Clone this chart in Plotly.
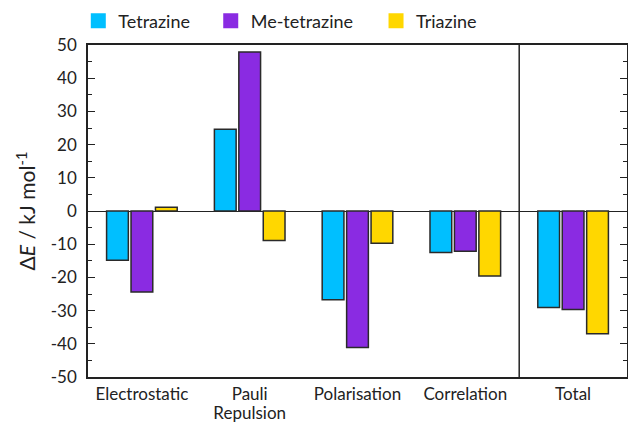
import plotly.graph_objects as go

categories = ["Electrostatic", "Pauli<br>Repulsion", "Polarisation", "Correlation", "Total"]
series_names = ["Tetrazine", "Me-tetrazine", "Triazine"]
legend_pad = ["\u2003\u2009", "\u2003\u2009\u2009", ""]
tetrazine = [-14.8, 24.6, -26.7, -12.5, -29.1]
me_tetrazine = [-24.4, 47.9, -41.1, -12.1, -29.7]
triazine = [1.1, -8.9, -9.7, -19.6, -37.0]
colors = ["#00BFFF", "#8A2BE2", "#FFD700"]
y_ticks = [-50, -40, -30, -20, -10, 0, 10, 20, 30, 40, 50]

font_family = "Lato, 'Open Sans', sans-serif"

fig = go.Figure()
for name, vals, col in zip(series_names, [tetrazine, me_tetrazine, triazine], colors):
    fig.add_trace(go.Bar(
        x=list(range(len(categories))), y=vals, name=name, showlegend=False,
        marker=dict(color=col, line=dict(color="#2a2a2a", width=1.5)),
    ))
# legend entries (square swatches)
for name, pad, col in zip(series_names, legend_pad, colors):
    fig.add_trace(go.Scatter(
        x=[None], y=[None], mode="markers", name=name + pad, showlegend=True,
        marker=dict(symbol="square", size=15, color=col, line=dict(width=0)),
    ))

# tick text drawn at 17px while the base size (15px) sets a tighter line spacing
x_ticktext = ["<span style='font-size:17px'>" + c.replace("<br>", "</span><br><span style='font-size:17px'>") + "</span>"
              for c in categories]

fig.update_layout(
    width=628, height=422,
    margin=dict(l=88, r=1, t=45, b=45, autoexpand=False),
    paper_bgcolor="white", plot_bgcolor="white",
    barmode="group", bargap=0.32, bargroupgap=0.11,
    font=dict(family=font_family, color="#222", size=17),
    showlegend=True,
    legend=dict(orientation="h", x=-0.018, xanchor="left", y=1.0723, yanchor="middle",
                font=dict(size=18, color="#222"), itemwidth=30, tracegroupgap=0,
                bgcolor="rgba(0,0,0,0)"),
)
fig.update_xaxes(
    range=[-0.5, 4.5], tickmode="array", tickvals=list(range(len(categories))),
    ticktext=x_ticktext, showline=True, linecolor="#222", linewidth=1.5, mirror=True,
    ticks="", showgrid=False, zeroline=False, tickfont=dict(size=15),
    automargin=False, ticklabelstandoff=3,
)
fig.update_yaxes(
    range=[-50, 50], tickmode="array", tickvals=y_ticks, ticktext=[str(v) for v in y_ticks],
    showline=True, linecolor="#222", linewidth=1.5, mirror="allticks",
    ticks="inside", ticklen=7, tickwidth=1.3, tickcolor="#222",
    minor=dict(ticks="inside", ticklen=4, dtick=5, tickwidth=1.2, tickcolor="#222", showgrid=False),
    showgrid=False, zeroline=True, zerolinecolor="#222", zerolinewidth=1.2,
    tickfont=dict(size=17), automargin=False, ticklabelstandoff=6,
    title=dict(text="Δ<i>E</i> / kJ mol<sup>-1</sup>", font=dict(size=21), standoff=9),
)
fig.add_shape(type="line", xref="x", yref="paper", x0=3.5, x1=3.5, y0=0, y1=1,
              line=dict(color="#222", width=1.5))
fig.write_html("out.html", config={"displayModeBar": False},
               post_script="document.body.style.margin='0';")
